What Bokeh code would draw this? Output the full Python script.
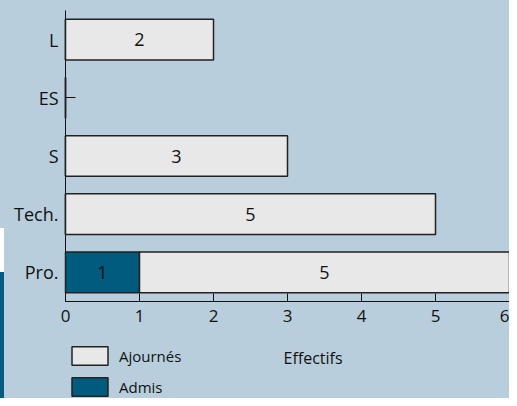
from bokeh.plotting import figure
from bokeh.layouts import column
from bokeh.models import ColumnDataSource, FactorRange, Range1d, Legend, LegendItem, Label
from bokeh.core.properties import value
from bokeh.embed import file_html
from bokeh.resources import INLINE

categories = ["Pro.", "Tech.", "S", "ES", "L"]
admis = [1, 0, 0, 0, 0]
ajournes = [5, 5, 3, 0, 2]
x_ticks = [0, 1, 2, 3, 4, 5, 6]

BG = "#b8cedc"
C_AJ = "#e8e8e8"
C_AD = "#005b7f"
EDGE = "#222222"
FONT = "Open Sans"
W = 509
H1 = 332
H2 = 66
LEFT = 65

strip1 = {"background-color": BG,
          "background-image": f"linear-gradient({C_AD},{C_AD}), linear-gradient(#ffffff,#ffffff)",
          "background-size": "4px 60px, 4px 44px",
          "background-position": "0px 272px, 0px 228px",
          "background-repeat": "no-repeat"}
strip2 = {"background-color": BG,
          "background-image": f"linear-gradient({C_AD},{C_AD})",
          "background-size": "4px 100%",
          "background-position": "0px 0px",
          "background-repeat": "no-repeat"}

src = ColumnDataSource(dict(cat=categories, Admis=admis, Ajournes=ajournes))

p = figure(width=W, height=H1, y_range=FactorRange(factors=categories),
           x_range=Range1d(0, 6), output_backend="svg", toolbar_location=None,
           min_border_left=LEFT, min_border_right=0, min_border_top=10, min_border_bottom=31,
           styles=strip1)
p.background_fill_color = None
p.border_fill_color = None
p.outline_line_color = None
p.xgrid.visible = False
p.ygrid.visible = False

rs = p.hbar_stack(["Admis", "Ajournes"], y="cat", height=0.7, source=src,
                  color=[C_AD, C_AJ], line_color=EDGE, line_width=1.5)
for r in rs:
    r.glyph.line_color = EDGE
    r.level = "annotation"   # bars drawn over the inward axis ticks

# bar value labels
lx, ly, lt = [], [], []
for c, a, j in zip(categories, admis, ajournes):
    if a > 0:
        lx.append(a / 2); ly.append(c); lt.append(str(a))
    if j > 0:
        lx.append(a + j / 2); ly.append(c); lt.append(str(j))
tr = p.text(x=lx, y=ly, text=lt, text_align="center", text_baseline="alphabetic",
            text_font=value(FONT), text_font_size="18px", text_color="#111111")
tr.level = "overlay"

p.axis.axis_line_color = "#111111"
p.axis.major_tick_line_color = "#111111"
p.axis.minor_tick_line_color = None
p.axis.major_label_text_font = FONT
p.axis.major_label_text_color = "#111111"

p.xaxis.ticker = x_ticks
p.xaxis.major_tick_out = 0
p.xaxis.major_tick_in = 8
p.xaxis.major_label_standoff = 8
p.xaxis.major_label_text_font_size = "17px"
p.yaxis.major_tick_out = 0
p.yaxis.major_tick_in = 10
p.yaxis.major_label_standoff = 7
p.yaxis.major_label_text_font_size = "18px"

# lower strip: axis title + legend (data units = page pixels)
p2 = figure(width=W, height=H2, x_range=Range1d(LEFT, W), y_range=Range1d(H1 + H2, H1),
            output_backend="svg", toolbar_location=None,
            x_axis_location=None, y_axis_location=None,
            min_border_left=LEFT, min_border_right=0, min_border_top=0, min_border_bottom=0,
            styles=strip2)
p2.background_fill_color = None
p2.border_fill_color = None
p2.outline_line_color = None
p2.xgrid.visible = False
p2.ygrid.visible = False

nan = float("nan")
d_aj = p2.quad(left=[nan], right=[nan], top=[nan], bottom=[nan],
               fill_color=C_AJ, line_color=EDGE, line_width=1.5)
d_ad = p2.quad(left=[nan], right=[nan], top=[nan], bottom=[nan],
               fill_color=C_AD, line_color=EDGE, line_width=1.5)

p2.add_layout(Label(x=283, y=357, text="Effectifs", text_align="left",
                    text_baseline="alphabetic", text_font=FONT, text_font_size="16px",
                    text_color="#111111"))

legend = Legend(items=[LegendItem(label="Ajournés", renderers=[d_aj]),
                       LegendItem(label="Admis", renderers=[d_ad])],
                location=(2, 0), orientation="vertical",
                glyph_width=45, glyph_height=23, spacing=8, label_standoff=7,
                padding=0, margin=0, border_line_color=None, background_fill_alpha=0,
                label_text_font=FONT, label_text_font_size="15px", label_text_color="#111111")
p2.add_layout(legend, "center")

layout = column(p, p2, spacing=0)
open("out.html", "w").write(file_html(layout, INLINE))
